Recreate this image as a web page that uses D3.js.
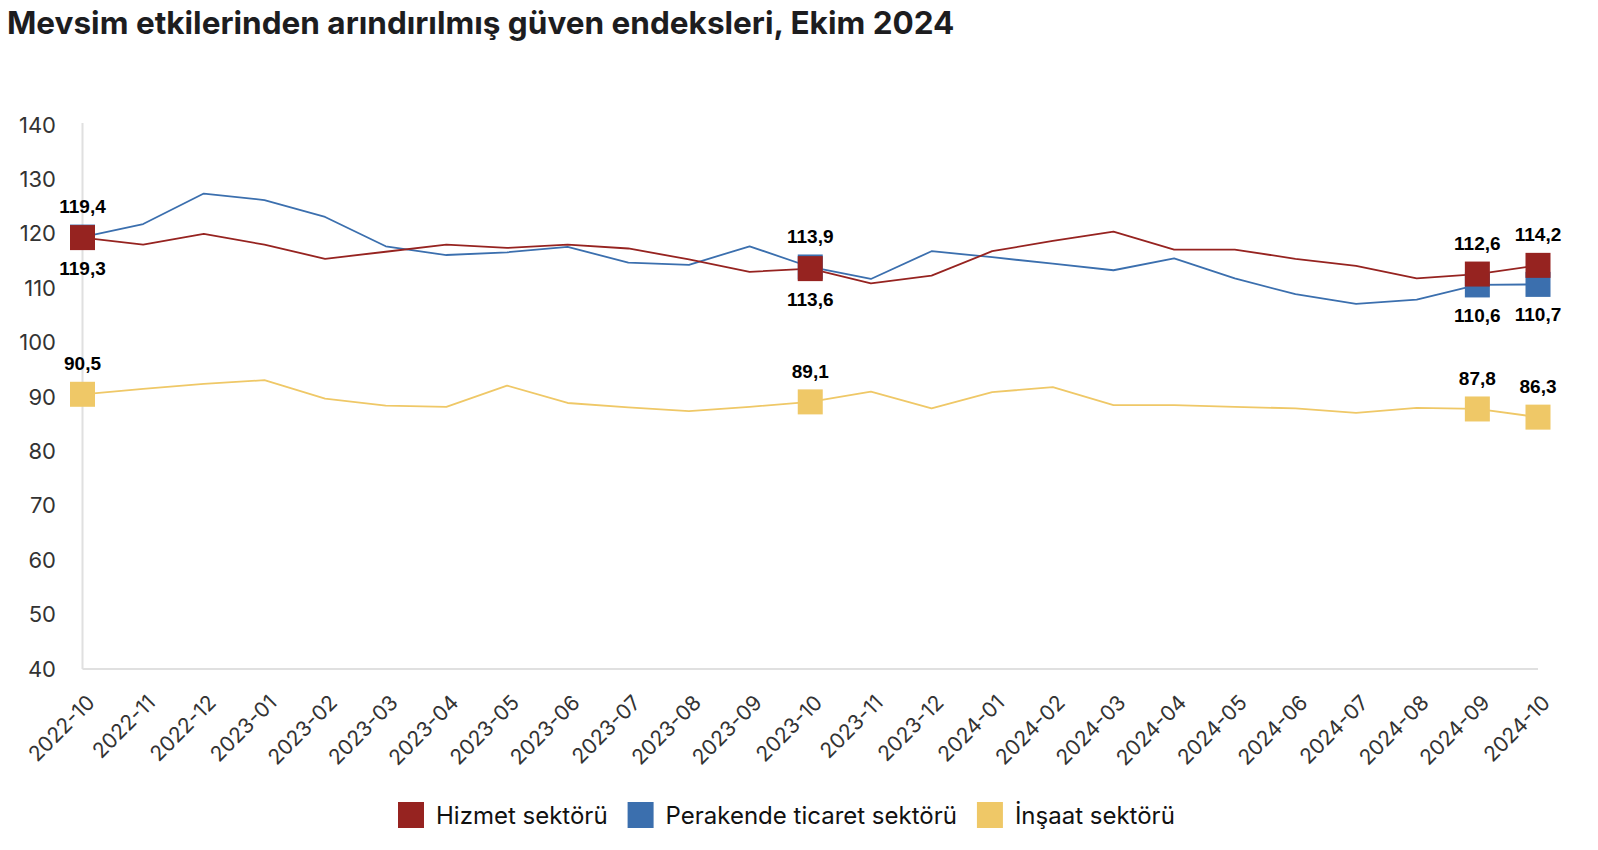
<!DOCTYPE html>
<html>
<head>
<meta charset="utf-8">
<script src="https://cdn.jsdelivr.net/npm/d3@7"></script>
<style>
  html, body { margin: 0; padding: 0; background: #fff; }
  svg { display: block; }
</style>
</head>
<body>
<svg id="chart" width="1598" height="850"></svg>
<script>
const title = "Mevsim etkilerinden arındırılmış güven endeksleri, Ekim 2024";
const months = ["2022-10","2022-11","2022-12","2023-01","2023-02","2023-03","2023-04","2023-05","2023-06","2023-07","2023-08","2023-09","2023-10","2023-11","2023-12","2024-01","2024-02","2024-03","2024-04","2024-05","2024-06","2024-07","2024-08","2024-09","2024-10"];
const seriesNames = ["Hizmet sektörü","Perakende ticaret sektörü","İnşaat sektörü"];
const hizmet =    [119.3,118.0,120.0,118.0,115.4,116.7,118.0,117.4,118.0,117.3,115.3,113.0,113.6,110.9,112.3,116.8,118.7,120.4,117.1,117.1,115.4,114.1,111.8,112.6,114.2];
const perakende = [119.4,121.8,127.4,126.2,123.1,117.7,116.1,116.6,117.6,114.7,114.3,117.7,113.9,111.7,116.8,115.7,114.5,113.3,115.5,111.8,108.9,107.1,107.9,110.6,110.7];
const insaat =    [90.5,91.5,92.4,93.1,89.7,88.4,88.2,92.1,88.9,88.1,87.4,88.2,89.1,91.0,87.9,90.9,91.8,88.5,88.5,88.2,87.9,87.1,88.0,87.8,86.3];
const yTicks = [40,50,60,70,80,90,100,110,120,130,140];
const markedMonths = ["2022-10","2023-10","2024-09","2024-10"];
// label side per marked month for each series (1 = above, -1 = below)
const hizmetSide =    [-1,-1,1,1];
const perakendeSide = [1,1,-1,-1];
const insaatSide =    [1,1,1,1];
const colors = ["#962320","#3b6fae","#efc867"];

const svg = d3.select("#chart");
const x = d3.scalePoint().domain(months).range([82.5, 1538]);
const y = d3.scaleLinear().domain([40,140]).range([669,125]);

// title
const t = svg.append("text")
  .attr("x", 7).attr("y", 34)
  .attr("font-family", "Inter, 'Noto Sans', sans-serif")
  .attr("font-weight", 700)
  .attr("font-size", 25)
  .attr("fill", "#1d1d1f")
  .text(title);
const tw = t.node().getComputedTextLength();
t.attr("font-size", 25 * 948 / tw);

// axes lines
svg.append("line").attr("x1", x(months[0])).attr("x2", x(months[0]))
  .attr("y1", y(140)-2).attr("y2", y(40)).attr("stroke", "#e0e0e0").attr("stroke-width", 2);
svg.append("line").attr("x1", x(months[0])).attr("x2", x(months[months.length-1]))
  .attr("y1", y(40)).attr("y2", y(40)).attr("stroke", "#e0e0e0").attr("stroke-width", 2);

// y axis labels
const yAxis = d3.axisLeft(y).tickValues(yTicks).tickSize(0).tickPadding(0);
const yg = svg.append("g").attr("transform", "translate(56,0)").call(yAxis);
yg.select(".domain").remove();
yg.selectAll("text")
  .attr("font-family", "Inter, sans-serif")
  .attr("font-size", 22)
  .attr("fill", "#333");

// x axis labels
const xAxis = d3.axisBottom(x).tickSize(0).tickPadding(0);
const xg = svg.append("g").attr("transform", `translate(0,${y(40)})`).call(xAxis);
xg.select(".domain").remove();
xg.selectAll("text")
  .attr("font-family", "Inter, sans-serif")
  .attr("font-size", 21)
  .attr("fill", "#333")
  .attr("text-anchor", "end")
  .attr("dy", null)
  .attr("y", 0)
  .attr("transform", "translate(13,35) rotate(-45)");

const data = [hizmet, perakende, insaat];
const sides = [hizmetSide, perakendeSide, insaatSide];
const line = d3.line().x((d,i) => x(months[i])).y(d => y(d));

// lines
[2,1,0].forEach(s => {
  svg.append("path").datum(data[s])
    .attr("d", line)
    .attr("fill", "none")
    .attr("stroke", colors[s])
    .attr("stroke-width", 1.8)
    .attr("stroke-linejoin", "round");
});

// markers: yellow, blue, red (red on top)
const ms = 25;
[2,1,0].forEach(s => {
  markedMonths.forEach(m => {
    const i = months.indexOf(m);
    svg.append("rect")
      .attr("x", x(m) - ms/2).attr("y", y(data[s][i]) - ms/2)
      .attr("width", ms).attr("height", ms)
      .attr("fill", colors[s]);
  });
});

// value labels
const fmt = v => d3.format(".1f")(v).replace(".", ",");
[0,1,2].forEach(s => {
  markedMonths.forEach((m, k) => {
    const i = months.indexOf(m);
    const v = data[s][i];
    const side = sides[s][k];
    svg.append("text")
      .attr("x", x(m))
      .attr("y", y(v) + (side > 0 ? -24 : 37))
      .attr("text-anchor", "middle")
      .attr("font-family", "'Liberation Sans', Arial, sans-serif")
      .attr("font-weight", 700)
      .attr("font-size", 19)
      .attr("fill", "#000")
      .text(fmt(v));
  });
});

// legend
let lx = 398;
const lg = svg.append("g");
seriesNames.forEach((n, s) => {
  lg.append("rect").attr("x", lx).attr("y", 802).attr("width", 26).attr("height", 26).attr("fill", colors[s]);
  const tt = lg.append("text").attr("x", lx + 38).attr("y", 824)
    .attr("font-family", "Inter, sans-serif").attr("font-size", 24).attr("fill", "#111").text(n);
  lx += 38 + tt.node().getComputedTextLength() + 20;
});
</script>
</body>
</html>
